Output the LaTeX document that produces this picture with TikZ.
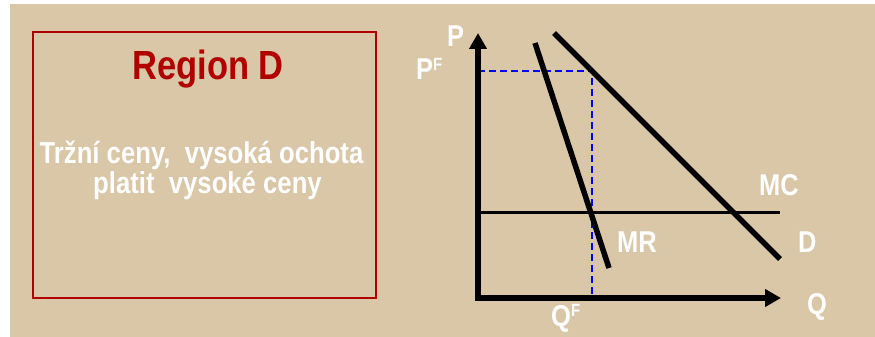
\documentclass[tikz,border=0pt]{standalone}
\usepackage{fontspec}
\setmainfont{Liberation Sans}
\usetikzlibrary{arrows.meta}
\definecolor{bg}{HTML}{D9C7A8}
\definecolor{dred}{HTML}{B00000}
\newcommand{\vstr}[1]{\scalebox{1}[1.18]{#1}}
\tikzset{
  lbl/.style={text=white, inner sep=0pt, anchor=base west, font=\bfseries\fontsize{25.5}{25.5}\selectfont},
  curve/.style={line width=5.5pt, black},
  axis/.style={line width=5.5pt, black, line join=miter, {Triangle[length=16pt,width=17pt]}-{Triangle[length=16pt,width=17pt]}},
  guide/.style={line width=2.3pt, blue, dash pattern=on 7pt off 4pt}
}
\begin{document}
\begin{tikzpicture}[x=1pt,y=-1pt]
\useasboundingbox (0,0) rectangle (875,337);
\fill[white] (0,0) rectangle (875,337);
\fill[bg] (10,4) rectangle (875,337);
% left box
\draw[dred, line width=2.2pt] (33,32) rectangle (376,298);
\node[text=dred, inner sep=0pt, anchor=base, font=\bfseries\fontsize{34.5}{34.5}\selectfont] (title) at (208,80) {\vstr{Region D}};
\node[text=white, inner sep=0pt, anchor=base, font=\bfseries\fontsize{25.7}{25.7}\selectfont] (l1) at (201.5,163) {\vstr{Tržní ceny,\ \ vysoká ochota}};
\node[text=white, inner sep=0pt, anchor=base, font=\bfseries\fontsize{25.7}{25.7}\selectfont] (l2) at (207.5,193) {\vstr{platit\ \ vysoké ceny}};
% chart
\coordinate (ytop) at (478,33);
\coordinate (org) at (478,298);
\coordinate (xend) at (781,298);
\coordinate (pf) at (478,71);
\coordinate (fp) at (592,71);
\coordinate (qf) at (592,298);
\draw[guide] (pf) -- (fp) -- (qf);
\draw[line width=3pt] (478,212) coordinate (mc0) -- (780,212) coordinate (mc1);
\draw[curve] (535,43) coordinate (mr0) -- (609,268) coordinate (mr1);
\draw[curve] (554,33) coordinate (d0) -- (780,259) coordinate (d1);
\draw[axis] (ytop) -- (org) -- (xend);
% labels
\node[lbl] (P) at (447,47) {\vstr{P}};
\node[lbl] (PF) at (416,79) {\vstr{P\raisebox{0.55ex}{\fontsize{15}{15}\selectfont F}}};
\node[lbl] (QF) at (551,326) {\vstr{Q\raisebox{0.6ex}{\fontsize{15}{15}\selectfont F}}};
\node[lbl] (MC) at (759,195) {\vstr{MC}};
\node[lbl] (MR) at (617,252) {\vstr{MR}};
\node[lbl] (D) at (798,252) {\vstr{D}};
\node[lbl] (Q) at (807,314) {\vstr{Q}};
\end{tikzpicture}
\end{document}
